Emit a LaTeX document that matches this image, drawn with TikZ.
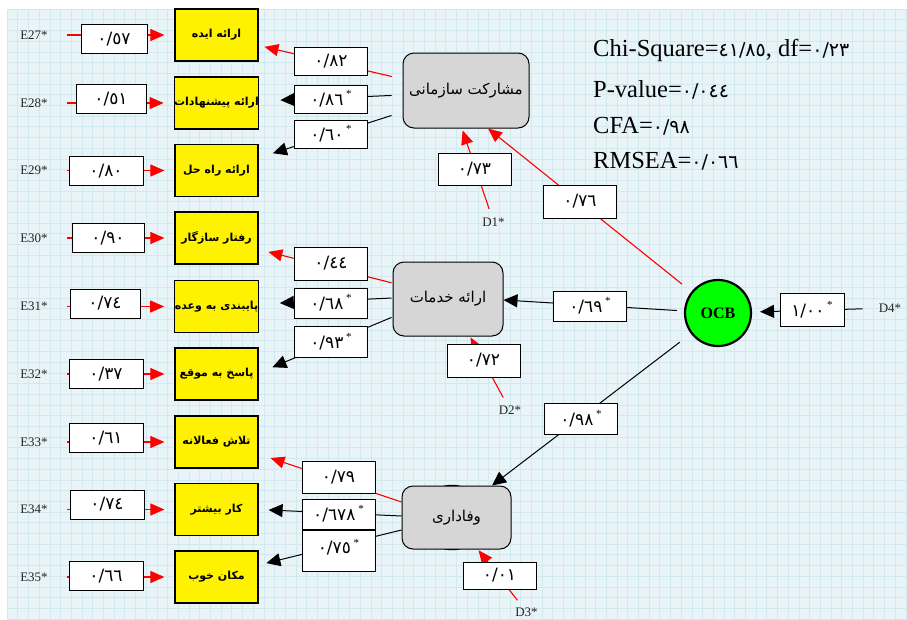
\documentclass[tikz,border=0pt]{standalone}
\usepackage{fontspec}
\setmainfont{Liberation Serif}
\newfontfamily\arfont[Script=Arabic]{DejaVu Sans}
\newfontfamily\digfont{DejaVu Sans}
\TeXXeTstate=1
\usetikzlibrary{arrows.meta,calc}
\definecolor{bgblue}{HTML}{E8F4F8}
\definecolor{gridblue}{HTML}{D2E9EF}
\definecolor{facgray}{HTML}{D6D6D6}
\definecolor{ocbgreen}{HTML}{00FF00}
\definecolor{tealdark}{HTML}{0B6E6E}
\newcommand\starmark{\,\raisebox{0.45em}{\rmfamily\fontsize{11}{11}\selectfont *}}
\newcommand\dg[1]{{\digfont\fontsize{19}{22}\selectfont #1}}
\tikzset{
 ybox/.style={draw=black, line width=1.2pt, fill=yellow, minimum width=83pt, minimum height=52pt, inner sep=0pt, font=\arfont\bfseries\fontsize{11}{14}\selectfont},
 nbox/.style={draw=black, line width=1pt, fill=white, minimum width=73pt, minimum height=29pt, inner sep=0pt, font=\digfont\fontsize{17}{19}\selectfont},
 facbox/.style={draw=black, line width=1pt, fill=facgray, rounded corners=11pt, inner sep=0pt, font=\arfont\fontsize{15}{18}\selectfont},
 elab/.style={font=\fontsize{13}{15}\selectfont, inner sep=0pt, text=black!85},
 redarr/.style={draw=red, line width=1.1pt, -{Triangle[length=14pt,width=12pt]}, red},
 blkarr/.style={draw=black, line width=1pt, -{Triangle[length=14pt,width=13pt]}},
 stat/.style={anchor=west, inner sep=0pt, font=\fontsize{24.5}{27}\selectfont}
}
\begin{document}
\begin{tikzpicture}[x=1pt,y=-1pt]
\useasboundingbox (0,0) rectangle (907,619);
\fill[bgblue] (7,9) rectangle (907,619);
\foreach \k in {0,...,84}{
  \draw[gridblue, line width=0.6pt] (7+\k*10.7,9) -- (7+\k*10.7,619);
}
\foreach \k in {0,...,57}{
  \draw[gridblue, line width=0.6pt] (7,9+\k*10.7) -- (907,9+\k*10.7);
}

% yellow indicator boxes
\node[ybox] (y1) at (216.5,35) {\beginR ارائه ایده\endR};
\node[ybox] (y2) at (216.5,103) {\beginR ارائه پیشنهادات\endR};
\node[ybox] (y3) at (216.5,170.5) {\beginR ارائه راه حل\endR};
\node[ybox] (y4) at (216.5,238) {\beginR رفتار سازگار\endR};
\node[ybox] (y5) at (216.5,306.5) {\beginR پایبندی به وعده\endR};
\node[ybox] (y6) at (216.5,374) {\beginR پاسخ به موقع\endR};
\node[ybox] (y7) at (216.5,442) {\beginR تلاش فعالانه\endR};
\node[ybox] (y8) at (216.5,509.5) {\beginR کار بیشتر\endR};
\node[ybox] (y9) at (216.5,577) {\beginR مکان خوب\endR};

% error labels
\node[elab] (e1) at (34,35) {E27*};
\node[elab] (e2) at (34,103) {E28*};
\node[elab] (e3) at (34,170.5) {E29*};
\node[elab] (e4) at (34,238) {E30*};
\node[elab] (e5) at (34,306.5) {E31*};
\node[elab] (e6) at (34,374) {E32*};
\node[elab] (e7) at (34,442) {E33*};
\node[elab] (e8) at (34,509.5) {E34*};
\node[elab] (e9) at (34,577) {E35*};

% factors
\node[circle, draw=black, line width=1.5pt, fill=tealdark, minimum size=64pt] (tc) at (452,517.5) {};
\node[facbox, minimum width=126pt, minimum height=75pt] (f1) at (466,90.5) {\beginR مشارکت سازمانی\endR};
\node[facbox, minimum width=110pt, minimum height=74pt] (f2) at (448,299) {\beginR ارائه خدمات\endR};
\node[facbox, minimum width=109pt, minimum height=63pt] (f3) at (456.5,517.5) {\beginR وفاداری\endR};

\node[circle, draw=black, line width=2.2pt, fill=ocbgreen, minimum size=66pt, inner sep=0pt, font=\bfseries\fontsize{16}{18}\selectfont] (ocb) at (718,313) {OCB};

% disturbance labels
\node[elab] (d1) at (493.5,222) {D1*};
\node[elab] (d2) at (510,410) {D2*};
\node[elab] (d3) at (526.5,612) {D3*};
\node[elab] (d4) at (890,308) {D4*};

% error arrows
\foreach \i in {1,...,9}{
  \draw[redarr, shorten <=19pt, shorten >=10pt] (e\i) -- (y\i);
}

% loadings F1
\draw[redarr, shorten <=11pt, shorten >=6pt] ($(f1.west)+(0,-11.5)$) -- ($(y1.east)+(0,10.5)$);
\draw[blkarr, shorten <=11pt, shorten >=21pt] ($(f1.west)+(0,4.5)$) -- ($(y2.east)+(0,-2)$);
\draw[blkarr, shorten <=11.5pt, shorten >=15pt] ($(f1.west)+(0,21.5)$) -- ($(y3.east)+(0,-12.7)$);
% loadings F2
\draw[redarr, shorten <=1pt, shorten >=10pt] ($(f2.west)+(0,-16)$) -- ($(y4.east)+(0,11.5)$);
\draw[blkarr, shorten <=1pt, shorten >=21pt] ($(f2.west)+(0,-1)$) -- ($(y5.east)+(0,-2.5)$);
\draw[blkarr, shorten <=1pt, shorten >=15pt] ($(f2.west)+(0,18)$) -- ($(y6.east)+(0,-1)$);
% loadings F3
\draw[redarr, shorten >=12.6pt] ($(f3.west)+(0,-15.5)$) -- ($(y7.east)+(0,12)$);
\draw[blkarr, shorten >=10pt] ($(f3.west)+(0,-1.5)$) -- (y8.east);
\draw[blkarr, shorten >=8pt] ($(f3.west)+(0,12.5)$) -- ($(y9.east)+(0,-12)$);

% structural paths
\draw[redarr, shorten <=12pt] (ocb) -- ($(f1.south)+(22,0)$);
\draw[blkarr, shorten <=7pt] (ocb) -- ($(f2.east)+(0,1)$);
\draw[blkarr, shorten <=14pt] (ocb) -- ($(f3.north)+(35.5,0)$);
\draw[blkarr, shorten <=16pt, shorten >=8pt] (d4) -- (ocb);
\draw[redarr, shorten <=9pt, shorten >=2pt] (d1) -- ($(f1.south)+(-4,0)$);
\draw[redarr, shorten <=9pt, shorten >=1pt] (d2) -- ($(f2.south)+(22,0)$);
\draw[redarr, shorten <=9pt, shorten >=1pt] (d3) -- ($(f3.south)+(21.5,0)$);

% coefficient boxes (errors)
\node[nbox, minimum width=66pt] (n1) at (114,39) {٠/٥٧};
\node[nbox, minimum width=70pt] (n2) at (111,99) {٠/٥١};
\node[nbox, minimum width=74pt] (n3) at (106,171) {٠/٨٠};
\node[nbox, minimum width=72pt] (n4) at (108,238) {٠/٩٠};
\node[nbox, minimum width=70pt] (n5) at (105,303.5) {٠/٧٤};
\node[nbox, minimum width=74pt] (n6) at (106,374) {٠/٣٧};
\node[nbox, minimum width=74pt] (n7) at (106,438) {٠/٦١};
\node[nbox, minimum width=74pt] (n8) at (107,504.5) {٠/٧٤};
\node[nbox, minimum width=74pt] (n9) at (106,576) {٠/٦٦};

% coefficient boxes (loadings)
\node[nbox, minimum height=28pt] (m1) at (331,61) {٠/٨٢};
\node[nbox, minimum height=28pt] (m2) at (331,99) {٠/٨٦\starmark};
\node[nbox, minimum height=28pt] (m3) at (331,134) {٠/٦٠\starmark};
\node[nbox, minimum height=33pt] (m4) at (331,263.5) {٠/٤٤};
\node[nbox, minimum height=30pt] (m5) at (331,303) {٠/٦٨\starmark};
\node[nbox, minimum height=31pt] (m6) at (331,341.5) {٠/٩٣\starmark};
\node[nbox, minimum height=32pt] (m7) at (338.5,477) {٠/٧٩};
\node[nbox, minimum height=30pt] (m8) at (338.5,514) {٠/٦٧٨\starmark};
\node[nbox, minimum height=41pt] (m9) at (338.5,550.5) {\raisebox{8pt}{٠/٧٥\starmark}};

% coefficient boxes (structural)
\node[nbox, minimum height=33pt] (s1) at (580,201.5) {٠/٧٦};
\node[nbox, minimum height=30pt] (s2) at (590,306) {٠/٦٩\starmark};
\node[nbox, minimum height=31pt] (s3) at (581,418.5) {٠/٩٨\starmark};
\node[nbox, minimum width=64pt, minimum height=33pt] (s4) at (812,309.5) {١/٠٠\starmark};
\node[nbox, minimum height=32pt] (r1) at (474.5,169) {٠/٧٣};
\node[nbox, minimum height=33pt] (r2) at (483.5,360.5) {٠/٧٢};
\node[nbox, minimum height=27pt] (r3) at (499.5,575.5) {٠/٠١};

% fit statistics
\node[stat] (t1) at (593,50) {Chi-Square=\dg{٤١/٨٥}, df=\dg{٠/٢٣}};
\node[stat] (t2) at (593,90) {P-value=\dg{٠/٠٤٤}};
\node[stat] (t3) at (593,126) {CFA=\dg{٠/٩٨}};
\node[stat] (t4) at (593,161) {RMSEA=\dg{٠/٠٦٦}};
\end{tikzpicture}
\end{document}
